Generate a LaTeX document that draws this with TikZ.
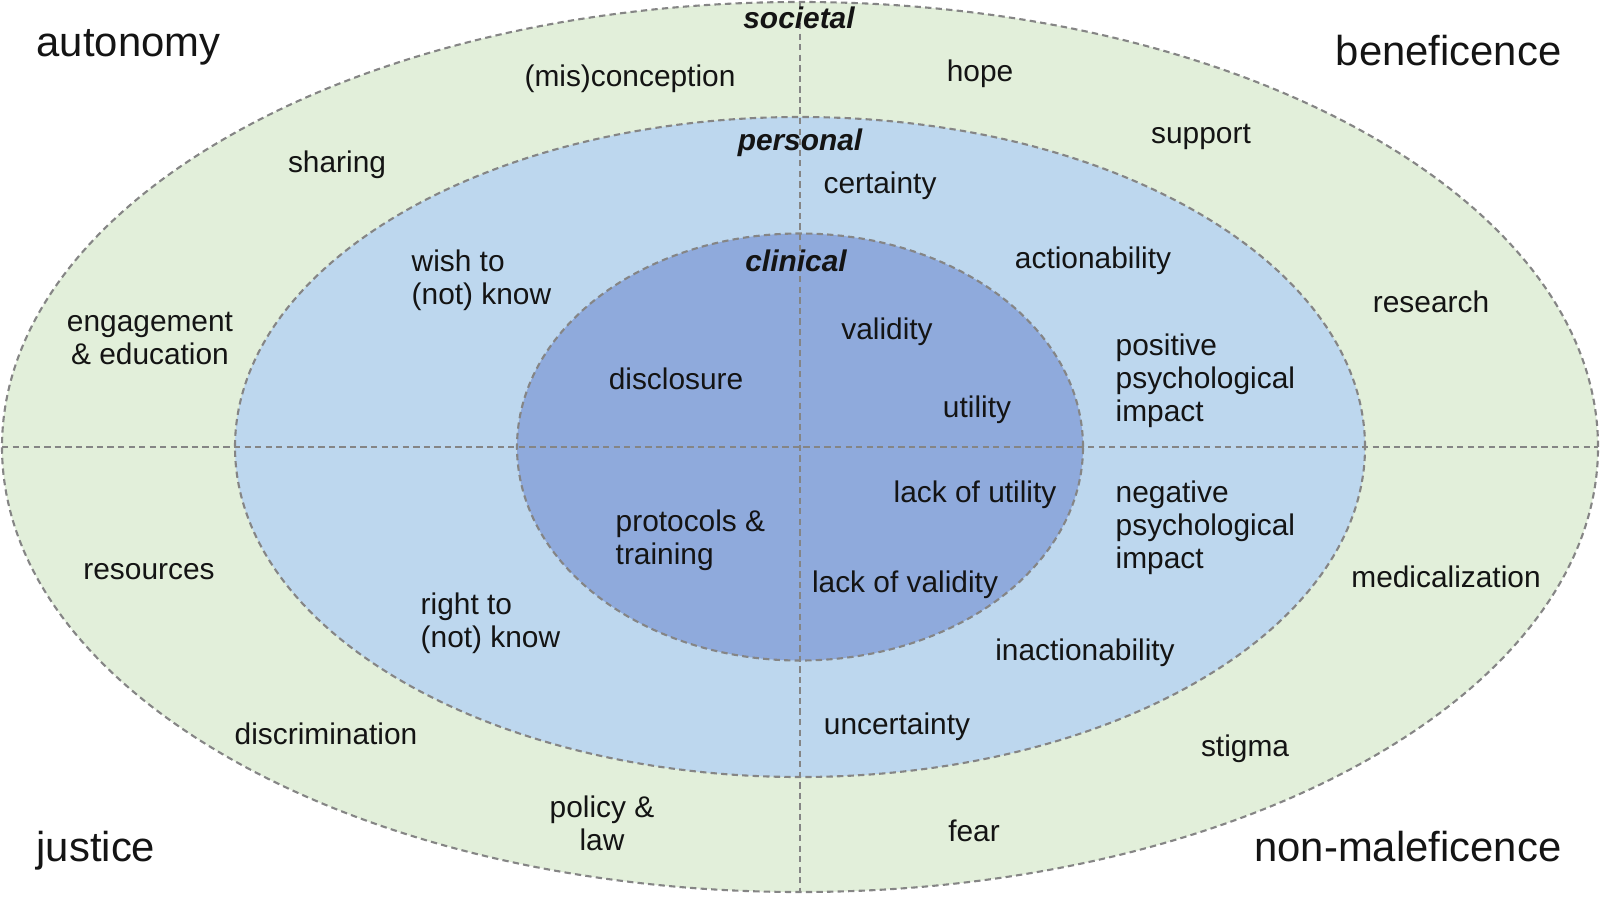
\documentclass[tikz,border=0pt]{standalone}
\usepackage{fontspec}
\setmainfont{Liberation Sans}
\usepackage{tikz}
\usetikzlibrary{shapes.geometric}

\definecolor{societalfill}{HTML}{E2EFDA}
\definecolor{personalfill}{HTML}{BDD7EE}
\definecolor{clinicalfill}{HTML}{8FAADC}
\definecolor{ringline}{HTML}{858585}
\definecolor{ink}{HTML}{141414}

\begin{document}
\begin{tikzpicture}
            \tikzstyle{ring}=[ellipse,draw=ringline,line width=0.6pt,dash pattern=on 1.8pt off 1.2pt,inner sep=0pt,outer sep=0pt]
            \tikzstyle{divider}=[draw=ringline,line width=0.6pt,dash pattern=on 1.8pt off 1.2pt]
            \tikzstyle{item}=[text=ink,inner sep=0pt,yshift=-0.9pt,font=\fontsize{8.5}{9.4}\selectfont]
            \tikzstyle{level}=[text=ink,inner sep=0pt,font=\fontsize{8.5}{10}\selectfont\bfseries\itshape]
            \tikzstyle{principle}=[text=ink,inner sep=0pt,yshift=-1.1pt,font=\fontsize{11.9}{14}\selectfont]
            \useasboundingbox (0,0) rectangle (16,-8.98);
            % rings
            \node[ring,fill=societalfill,minimum width=15.96cm,minimum height=8.90cm](societalring) at (8,-4.47){};
            \node[ring,fill=personalfill,minimum width=11.30cm,minimum height=6.60cm](personalring) at (8,-4.47){};
            \node[ring,fill=clinicalfill,minimum width=5.66cm,minimum height=4.27cm](clinicalring) at (8,-4.47){};
            \draw[divider] (societalring.north) -- (societalring.south);
            \draw[divider] (societalring.west) -- (societalring.east);
            % ring titles
            \node[level](societal) at (7.99,-0.18){societal};
            \node[level](personal) at (8.00,-1.43){personal};
            \node[level](clinical) at (7.96,-2.61){clinical};
            % principles
            \node[principle,anchor=west](autonomy) at (0.36,-0.43){autonomy};
            \node[principle,anchor=east](beneficence) at (15.62,-0.47){beneficence};
            \node[principle,anchor=west](justice) at (0.36,-8.47){justice};
            \node[principle,anchor=east](nonmaleficence) at (15.62,-8.43){non-maleficence};
            % societal items
            \node[item](misconception) at (6.30,-0.76){(mis)conception};
            \node[item](hope) at (9.80,-0.71){hope};
            \node[item](support) at (12.01,-1.34){support};
            \node[item](sharing) at (3.37,-1.62){sharing};
            \node[item](research) at (14.31,-2.99){research};
            \node[item,align=center](engagement) at (1.50,-3.35){engagement\\\& education};
            \node[item](resources) at (1.49,-5.68){resources};
            \node[item](medicalization) at (14.46,-5.74){medicalization};
            \node[item](discrimination) at (3.26,-7.31){discrimination};
            \node[item](stigma) at (12.45,-7.46){stigma};
            \node[item,align=center](policy) at (6.02,-8.20){policy \&\\law};
            \node[item](fear) at (9.74,-8.28){fear};
            % personal items
            \node[item](certainty) at (8.80,-1.83){certainty};
            \node[item,anchor=west,align=left](wishto) at (4.11,-2.77){wish to\\(not) know};
            \node[item](actionability) at (10.93,-2.58){actionability};
            \node[item,anchor=west,align=left](positive) at (11.15,-3.78){positive\\psychological\\impact};
            \node[item,anchor=west,align=left](negative) at (11.15,-5.25){negative\\psychological\\impact};
            \node[item,anchor=west,align=left](rightto) at (4.20,-6.20){right to\\(not) know};
            \node[item](inactionability) at (10.85,-6.50){inactionability};
            \node[item](uncertainty) at (8.97,-7.24){uncertainty};
            % clinical items
            \node[item](validity) at (8.87,-3.29){validity};
            \node[item](disclosure) at (6.76,-3.76){disclosure};
            \node[item](utility) at (9.77,-4.07){utility};
            \node[item](lackutility) at (9.75,-4.92){lack of utility};
            \node[item,anchor=west,align=left](protocols) at (6.15,-5.37){protocols \&\\training};
            \node[item](lackvalidity) at (9.05,-5.82){lack of validity};
        \end{tikzpicture}
\end{document}
